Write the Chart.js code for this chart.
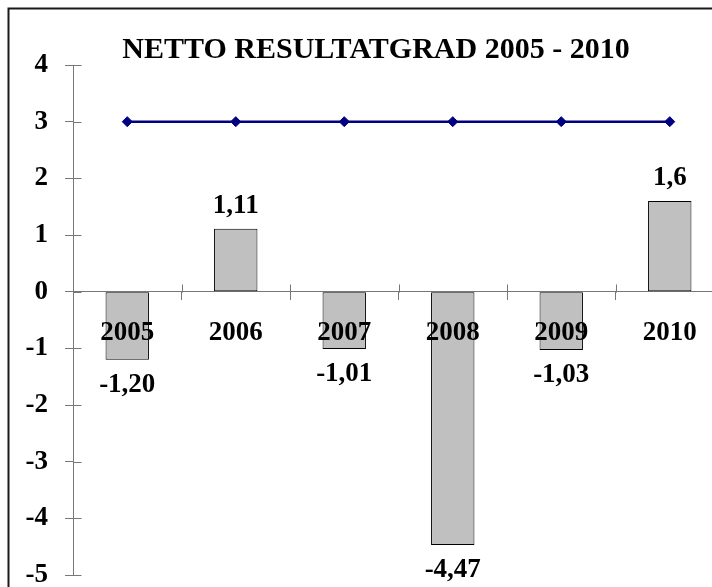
<!DOCTYPE html>
<html>
<head>
<meta charset="utf-8">
<script src="https://cdn.jsdelivr.net/npm/chart.js"></script>
<style>
    html, body { margin: 0; padding: 0; overflow: hidden; background: #fff; }
    canvas { display: block; }
</style>
</head>
<body>
<canvas id="chartCanvas" width="760" height="620"></canvas>
<script>
// Daten
const years = ['2005', '2006', '2007', '2008', '2009', '2010'];
const resultatgrad = [-1.20, 1.11, -1.01, -4.47, -1.03, 1.6];
const resultatLabels = ['-1,20', '1,11', '-1,01', '-4,47', '-1,03', '1,6'];
const maal = [3, 3, 3, 3, 3, 3];
const yMin = -5;
const yMax = 4;
const titleText = 'NETTO RESULTATGRAD 2005 - 2010';

const serif = '"Liberation Serif", "Times New Roman", serif';
const axisColor = '#777777';

// Rahmen um das ganze Diagramm
const framePlugin = {
    id: 'frame',
    beforeDraw(chart) {
        const ctx = chart.ctx;
        ctx.save();
        ctx.fillStyle = '#ffffff';
        ctx.fillRect(0, 0, chart.width, chart.height);
        ctx.strokeStyle = '#1a1a1a';
        ctx.lineWidth = 2;
        ctx.strokeRect(8.5, 8.5, chart.width, chart.height);
        ctx.restore();
    }
};

// Tick-Striche, die die Achse kreuzen (innere Hälfte)
const crossTicksPlugin = {
    id: 'crossTicks',
    afterDraw(chart) {
        const ctx = chart.ctx;
        const x = chart.scales.x;
        const y = chart.scales.y;
        const axisX = Math.round(x.left) + 0.5;
        const zeroY = Math.round(y.getPixelForValue(0)) + 0.5;
        ctx.save();
        ctx.strokeStyle = axisColor;
        ctx.lineWidth = 1;
        ctx.beginPath();
        y.ticks.forEach(t => {
            const py = Math.round(y.getPixelForValue(t.value)) + 0.5;
            ctx.moveTo(axisX, py);
            ctx.lineTo(axisX + 8, py);
        });
        for (let i = 0; i <= years.length; i++) {
            const px = Math.round(x.getPixelForValue(i - 0.5)) + 0.5;
            ctx.moveTo(px, zeroY);
            ctx.lineTo(px, zeroY - 8);
        }
        ctx.stroke();
        ctx.restore();
    }
};

// Werte an den Balken
const valueLabelPlugin = {
    id: 'valueLabels',
    afterDatasetsDraw(chart) {
        const ctx = chart.ctx;
        const meta = chart.getDatasetMeta(1);
        ctx.save();
        ctx.font = 'bold 27px ' + serif;
        ctx.fillStyle = '#000';
        ctx.textAlign = 'center';
        ctx.textBaseline = 'middle';
        meta.data.forEach((bar, i) => {
            const v = resultatgrad[i];
            const ty = v >= 0 ? bar.y - 23 : bar.y + 25;
            ctx.fillText(resultatLabels[i], bar.x, ty);
        });
        ctx.restore();
    }
};

// Titel
const titlePlugin = {
    id: 'titleText',
    afterDraw(chart) {
        const ctx = chart.ctx;
        ctx.save();
        ctx.font = 'bold 30px ' + serif;
        ctx.fillStyle = '#000';
        ctx.textAlign = 'center';
        ctx.textBaseline = 'middle';
        ctx.fillText(titleText, 376, 50);
        ctx.restore();
    }
};

const ctx = document.getElementById('chartCanvas').getContext('2d');
new Chart(ctx, {
    type: 'bar',
    data: {
        labels: years,
        datasets: [
            {
                type: 'line',
                label: 'Mål',
                data: maal,
                borderColor: '#000080',
                backgroundColor: '#000080',
                borderWidth: 2.5,
                pointStyle: 'rectRot',
                pointRadius: 5,
                pointBackgroundColor: '#000080',
                pointBorderColor: '#000080',
                pointBorderWidth: 1,
                fill: false,
                tension: 0
            },
            {
                type: 'bar',
                label: 'Netto resultatgrad',
                data: resultatgrad,
                backgroundColor: '#c0c0c0',
                borderColor: '#000000',
                borderWidth: 1,
                borderSkipped: false,
                barPercentage: 0.4,
                categoryPercentage: 1.0
            }
        ]
    },
    options: {
        responsive: false,
        animation: false,
        events: [],
        layout: {
            padding: { top: 65, bottom: 45, left: 0, right: 36 }
        },
        plugins: {
            legend: { display: false },
            tooltip: { enabled: false },
            title: { display: false }
        },
        scales: {
            x: {
                position: { y: 0 },
                offset: true,
                grid: {
                    offset: true,
                    drawOnChartArea: false,
                    drawTicks: true,
                    tickLength: 8,
                    color: axisColor
                },
                border: { display: true, color: axisColor, width: 1 },
                ticks: {
                    z: 1,
                    color: '#000',
                    padding: 17,
                    maxRotation: 0,
                    font: { family: serif, size: 27, weight: 'bold' }
                }
            },
            y: {
                min: yMin,
                max: yMax,
                afterFit(scale) {
                    scale.width = 73;
                },
                grid: {
                    drawOnChartArea: false,
                    drawTicks: true,
                    tickLength: 8,
                    color: axisColor
                },
                border: { display: true, color: axisColor, width: 1 },
                ticks: {
                    stepSize: 1,
                    color: '#000',
                    padding: 17,
                    font: { family: serif, size: 27, weight: 'bold' }
                }
            }
        }
    },
    plugins: [framePlugin, crossTicksPlugin, valueLabelPlugin, titlePlugin]
});
</script>
</body>
</html>
